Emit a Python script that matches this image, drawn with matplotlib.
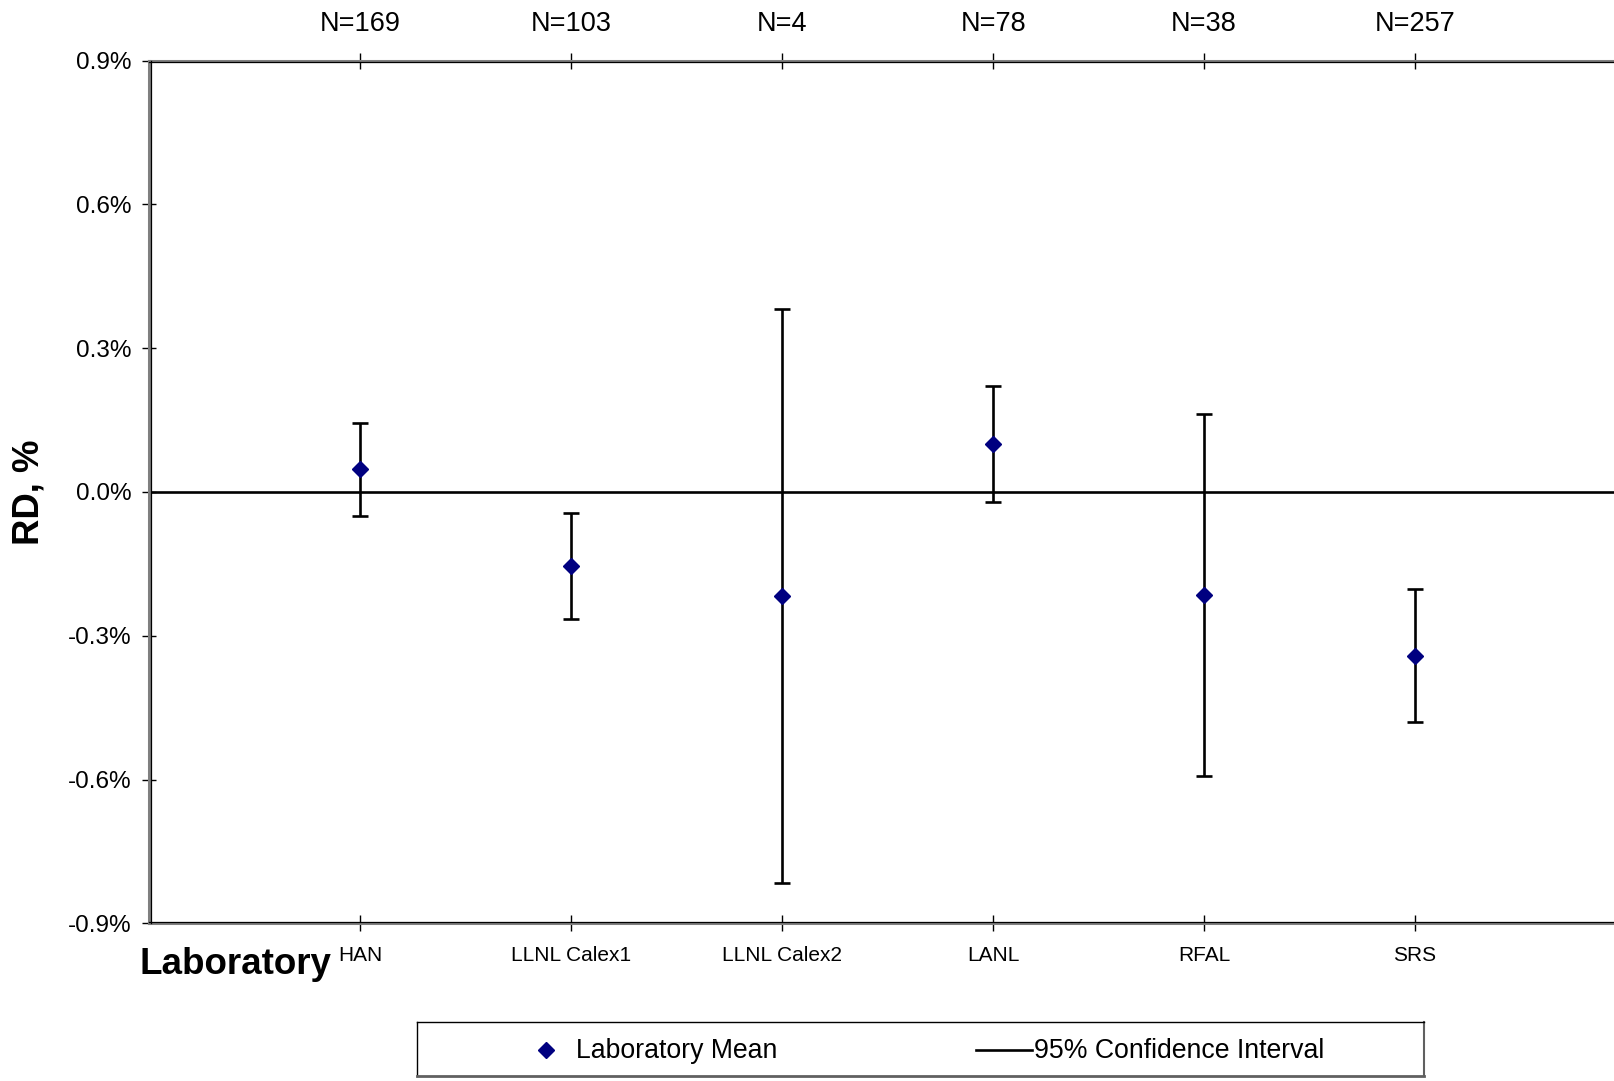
import matplotlib
matplotlib.use('Agg')
import matplotlib.pyplot as plt
from matplotlib.transforms import offset_copy
import numpy as np

# ---- data (values in percent) ----
labs = ['HAN', 'LLNL Calex1', 'LLNL Calex2', 'LANL', 'RFAL', 'SRS']
n_labels = ['N=169', 'N=103', 'N=4', 'N=78', 'N=38', 'N=257']
means = [0.047, -0.155, -0.217, 0.101, -0.214, -0.342]
upper = [0.144, -0.044, 0.381, 0.222, 0.163, -0.203]
lower = [-0.050, -0.264, -0.816, -0.020, -0.592, -0.480]
yticks = [-0.9, -0.6, -0.3, 0.0, 0.3, 0.6, 0.9]
ytick_labels = ['-0.9%', '-0.6%', '-0.3%', '0.0%', '0.3%', '0.6%', '0.9%']

plt.rcParams['font.family'] = ['Liberation Sans', 'DejaVu Sans']

W, H = 1614, 1081
fig = plt.figure(figsize=(W / 100, H / 100), dpi=100)
fig.patch.set_facecolor('white')


def fx(px):
    return px / W


def fy(py):
    return 1 - py / H


left, right, top, bottom = 149.3, 1626.0, 60.7, 923.3
ax = fig.add_axes([fx(left), fy(bottom), (right - left) / W, (bottom - top) / H])

x = np.arange(1, len(labs) + 1)
m = np.array(means)
up = np.array(upper)
lo = np.array(lower)

ax.set_xlim(0, 7)
ax.set_ylim(-0.9, 0.9)

ax.axhline(0, color='black', lw=1.9, zorder=1)
ax.errorbar(x, m, yerr=[m - lo, up - m], fmt='none', ecolor='black',
            elinewidth=1.9, capsize=5.5, capthick=1.9, zorder=2)
ax.plot(x, m, linestyle='none', marker='D', ms=8.5, color='#000080',
        markeredgecolor='#000080', zorder=3)

# spines: gray outer + thin black inner
for s in ['left', 'top', 'bottom']:
    ax.spines[s].set_color('#808080')
    ax.spines[s].set_linewidth(2.2)
ax.spines['right'].set_visible(False)
ax.plot([0, 1], [1, 1], transform=offset_copy(ax.transAxes, fig, x=0, y=-1.2, units='dots'),
        color='black', lw=0.9, clip_on=False, zorder=4)
ax.plot([0, 1], [0, 0], transform=offset_copy(ax.transAxes, fig, x=0, y=1.2, units='dots'),
        color='black', lw=0.9, clip_on=False, zorder=4)
ax.plot([0, 0], [0, 1], transform=offset_copy(ax.transAxes, fig, x=1.2, y=0, units='dots'),
        color='black', lw=0.9, clip_on=False, zorder=4)

ax.set_xticks(x)
ax.set_xticklabels(labs)
ax.tick_params(axis='x', direction='inout', length=12, width=1, colors='black',
               labelsize=15, pad=10.5)
ax.set_yticks(yticks)
ax.set_yticklabels(ytick_labels)
ax.tick_params(axis='y', direction='inout', length=10, width=1, labelsize=17.5, pad=8)

sec = ax.secondary_xaxis('top')
sec.set_xticks(x)
sec.set_xticklabels(n_labels)
sec.tick_params(axis='x', direction='inout', length=12, width=1, labelsize=19.5, pad=11)
sec.spines['top'].set_visible(False)

# axis titles
fig.text(fx(29), fy(492), 'RD, %', rotation=90, fontsize=26.3, fontweight='bold',
         ha='center', va='center')
fig.text(fx(139), fy(974), 'Laboratory', fontsize=26.5, fontweight='bold',
         ha='left', va='baseline')

# legend (manual box)
lx0, lx1, ly0, ly1 = 417, 1424, 1022, 1076
lax = fig.add_axes([fx(lx0), fy(ly1), (lx1 - lx0) / W, (ly1 - ly0) / H])
lax.set_xlim(lx0, lx1)
lax.set_ylim(ly1, ly0)
lax.set_xticks([])
lax.set_yticks([])
for s in lax.spines.values():
    s.set_color('black')
    s.set_linewidth(1.0)
lax.spines['bottom'].set_color('#606060')
lax.spines['bottom'].set_linewidth(2.0)
lax.spines['right'].set_color('#606060')
lax.spines['right'].set_linewidth(1.5)
yc = 1050.5
lax.plot([545.5], [yc - 1], linestyle='none', marker='D', ms=8.5, color='#000080')
lax.text(576.5, yc, 'Laboratory Mean', fontsize=19.2, va='center', ha='left')
lax.plot([976, 1032], [yc - 1, yc - 1], color='black', lw=1.9)
lax.text(1034.5, yc, '95% Confidence Interval', fontsize=19.2, va='center', ha='left')

fig.savefig('out.png', dpi=100)
